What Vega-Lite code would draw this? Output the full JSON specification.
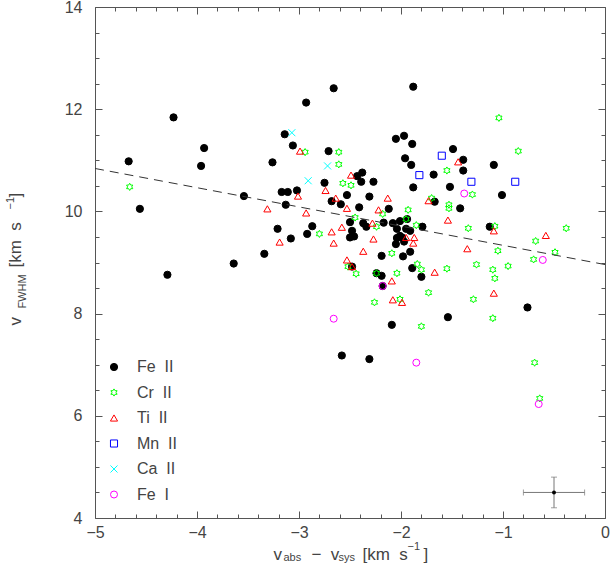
{
  "$schema": "https://vega.github.io/schema/vega-lite/v6.json",
  "width": 510,
  "height": 511,
  "autosize": "none",
  "padding": {"left": 95, "top": 7, "right": 6, "bottom": 46},
  "config": {
    "view": {"stroke": "#555", "strokeWidth": 1},
    "axis": {"domain": false, "grid": false, "labelFont": "Liberation Sans", "titleFont": "Liberation Sans", "labelColor": "#444", "titleColor": "#444", "titleFontWeight": "normal", "tickColor": "#555", "labelFlush": false, "labelOverlap": false, "titleAnchor": "start", "titlePadding": 0}
  },
  "datasets": {
    "pts": [
      {"x": -4.67, "y": 10.98, "ion": "Fe II"}, {"x": -4.56, "y": 10.05, "ion": "Fe II"}, {"x": -4.23, "y": 11.84, "ion": "Fe II"},
      {"x": -3.93, "y": 11.24, "ion": "Fe II"}, {"x": -3.96, "y": 10.89, "ion": "Fe II"}, {"x": -4.29, "y": 8.76, "ion": "Fe II"},
      {"x": -3.64, "y": 8.98, "ion": "Fe II"}, {"x": -3.54, "y": 10.30, "ion": "Fe II"}, {"x": -3.26, "y": 10.96, "ion": "Fe II"},
      {"x": -3.34, "y": 9.17, "ion": "Fe II"}, {"x": -3.14, "y": 11.51, "ion": "Fe II"}, {"x": -3.06, "y": 11.29, "ion": "Fe II"},
      {"x": -2.93, "y": 12.13, "ion": "Fe II"}, {"x": -2.66, "y": 12.41, "ion": "Fe II"}, {"x": -2.71, "y": 11.18, "ion": "Fe II"},
      {"x": -2.75, "y": 10.56, "ion": "Fe II"}, {"x": -3.17, "y": 10.38, "ion": "Fe II"}, {"x": -3.11, "y": 10.38, "ion": "Fe II"},
      {"x": -3.02, "y": 10.41, "ion": "Fe II"}, {"x": -3.13, "y": 10.13, "ion": "Fe II"}, {"x": -3.21, "y": 9.66, "ion": "Fe II"},
      {"x": -3.08, "y": 9.47, "ion": "Fe II"}, {"x": -2.92, "y": 9.56, "ion": "Fe II"}, {"x": -2.87, "y": 9.71, "ion": "Fe II"},
      {"x": -2.68, "y": 10.20, "ion": "Fe II"}, {"x": -2.59, "y": 10.14, "ion": "Fe II"}, {"x": -2.53, "y": 10.32, "ion": "Fe II"},
      {"x": -2.43, "y": 10.69, "ion": "Fe II"}, {"x": -2.38, "y": 10.76, "ion": "Fe II"}, {"x": -2.39, "y": 10.58, "ion": "Fe II"},
      {"x": -2.41, "y": 10.08, "ion": "Fe II"}, {"x": -2.50, "y": 9.79, "ion": "Fe II"}, {"x": -2.48, "y": 9.62, "ion": "Fe II"},
      {"x": -2.50, "y": 9.49, "ion": "Fe II"}, {"x": -2.46, "y": 9.51, "ion": "Fe II"}, {"x": -2.37, "y": 9.77, "ion": "Fe II"},
      {"x": -2.34, "y": 9.70, "ion": "Fe II"}, {"x": -2.05, "y": 11.42, "ion": "Fe II"}, {"x": -1.97, "y": 11.48, "ion": "Fe II"},
      {"x": -1.89, "y": 11.32, "ion": "Fe II"}, {"x": -1.88, "y": 12.44, "ion": "Fe II"}, {"x": -1.49, "y": 11.22, "ion": "Fe II"},
      {"x": -1.96, "y": 11.04, "ion": "Fe II"}, {"x": -1.90, "y": 10.91, "ion": "Fe II"}, {"x": -1.39, "y": 11.01, "ion": "Fe II"},
      {"x": -1.39, "y": 10.80, "ion": "Fe II"}, {"x": -1.09, "y": 10.91, "ion": "Fe II"}, {"x": -1.01, "y": 10.32, "ion": "Fe II"},
      {"x": -2.27, "y": 10.58, "ion": "Fe II"}, {"x": -1.68, "y": 10.72, "ion": "Fe II"}, {"x": -1.88, "y": 10.47, "ion": "Fe II"},
      {"x": -1.52, "y": 10.48, "ion": "Fe II"}, {"x": -2.31, "y": 10.29, "ion": "Fe II"}, {"x": -1.67, "y": 10.19, "ion": "Fe II"},
      {"x": -1.42, "y": 10.06, "ion": "Fe II"}, {"x": -2.12, "y": 10.05, "ion": "Fe II"}, {"x": -2.17, "y": 9.78, "ion": "Fe II"},
      {"x": -2.08, "y": 9.77, "ion": "Fe II"}, {"x": -2.01, "y": 9.81, "ion": "Fe II"}, {"x": -1.94, "y": 9.85, "ion": "Fe II"},
      {"x": -2.04, "y": 9.66, "ion": "Fe II"}, {"x": -1.95, "y": 9.66, "ion": "Fe II"}, {"x": -1.91, "y": 9.62, "ion": "Fe II"},
      {"x": -1.79, "y": 9.70, "ion": "Fe II"}, {"x": -2.01, "y": 9.52, "ion": "Fe II"}, {"x": -2.04, "y": 9.48, "ion": "Fe II"},
      {"x": -1.99, "y": 9.49, "ion": "Fe II"}, {"x": -1.97, "y": 9.41, "ion": "Fe II"}, {"x": -2.05, "y": 9.36, "ion": "Fe II"},
      {"x": -1.13, "y": 9.70, "ion": "Fe II"}, {"x": -2.19, "y": 9.13, "ion": "Fe II"}, {"x": -1.98, "y": 9.12, "ion": "Fe II"},
      {"x": -1.91, "y": 9.21, "ion": "Fe II"}, {"x": -1.89, "y": 8.89, "ion": "Fe II"}, {"x": -1.80, "y": 8.72, "ion": "Fe II"},
      {"x": -2.24, "y": 8.79, "ion": "Fe II"}, {"x": -2.19, "y": 8.74, "ion": "Fe II"}, {"x": -2.18, "y": 8.54, "ion": "Fe II"},
      {"x": -2.48, "y": 8.92, "ion": "Fe II"}, {"x": -1.54, "y": 7.93, "ion": "Fe II"}, {"x": -2.09, "y": 7.78, "ion": "Fe II"},
      {"x": -2.31, "y": 7.11, "ion": "Fe II"}, {"x": -2.58, "y": 7.18, "ion": "Fe II"}, {"x": -0.76, "y": 8.12, "ion": "Fe II"},
      {"x": -4.66, "y": 10.48, "ion": "Cr II"}, {"x": -2.94, "y": 11.16, "ion": "Cr II"}, {"x": -2.61, "y": 11.16, "ion": "Cr II"},
      {"x": -2.61, "y": 10.92, "ion": "Cr II"}, {"x": -2.57, "y": 10.55, "ion": "Cr II"}, {"x": -2.49, "y": 10.51, "ion": "Cr II"},
      {"x": -2.80, "y": 9.56, "ion": "Cr II"}, {"x": -2.45, "y": 9.88, "ion": "Cr II"}, {"x": -1.55, "y": 10.80, "ion": "Cr II"},
      {"x": -1.30, "y": 10.33, "ion": "Cr II"}, {"x": -1.70, "y": 10.26, "ion": "Cr II"}, {"x": -1.53, "y": 10.13, "ion": "Cr II"},
      {"x": -1.53, "y": 10.06, "ion": "Cr II"}, {"x": -1.93, "y": 10.03, "ion": "Cr II"}, {"x": -2.18, "y": 9.95, "ion": "Cr II"},
      {"x": -1.95, "y": 9.85, "ion": "Cr II"}, {"x": -2.24, "y": 9.70, "ion": "Cr II"}, {"x": -1.85, "y": 9.73, "ion": "Cr II"},
      {"x": -1.34, "y": 9.67, "ion": "Cr II"}, {"x": -1.08, "y": 9.71, "ion": "Cr II"}, {"x": -1.04, "y": 11.83, "ion": "Cr II"},
      {"x": -0.85, "y": 11.18, "ion": "Cr II"}, {"x": -0.68, "y": 9.42, "ion": "Cr II"}, {"x": -0.38, "y": 9.67, "ion": "Cr II"},
      {"x": -0.49, "y": 9.20, "ion": "Cr II"}, {"x": -0.70, "y": 9.06, "ion": "Cr II"}, {"x": -1.05, "y": 9.23, "ion": "Cr II"},
      {"x": -2.09, "y": 9.18, "ion": "Cr II"}, {"x": -2.52, "y": 8.92, "ion": "Cr II"}, {"x": -2.44, "y": 8.78, "ion": "Cr II"},
      {"x": -2.24, "y": 8.79, "ion": "Cr II"}, {"x": -2.04, "y": 8.79, "ion": "Cr II"}, {"x": -1.84, "y": 8.97, "ion": "Cr II"},
      {"x": -1.80, "y": 8.86, "ion": "Cr II"}, {"x": -1.55, "y": 8.88, "ion": "Cr II"}, {"x": -1.26, "y": 8.96, "ion": "Cr II"},
      {"x": -1.10, "y": 8.86, "ion": "Cr II"}, {"x": -1.08, "y": 8.69, "ion": "Cr II"}, {"x": -0.95, "y": 8.93, "ion": "Cr II"},
      {"x": -1.73, "y": 8.41, "ion": "Cr II"}, {"x": -2.26, "y": 8.22, "ion": "Cr II"}, {"x": -2.01, "y": 8.28, "ion": "Cr II"},
      {"x": -1.29, "y": 8.28, "ion": "Cr II"}, {"x": -1.10, "y": 7.91, "ion": "Cr II"}, {"x": -1.80, "y": 7.75, "ion": "Cr II"},
      {"x": -0.69, "y": 7.04, "ion": "Cr II"}, {"x": -0.64, "y": 6.34, "ion": "Cr II"},
      {"x": -2.99, "y": 11.18, "ion": "Ti II"}, {"x": -2.74, "y": 10.41, "ion": "Ti II"}, {"x": -3.01, "y": 10.30, "ion": "Ti II"},
      {"x": -3.31, "y": 10.05, "ion": "Ti II"}, {"x": -2.93, "y": 9.97, "ion": "Ti II"}, {"x": -2.64, "y": 10.26, "ion": "Ti II"},
      {"x": -2.53, "y": 10.06, "ion": "Ti II"}, {"x": -2.68, "y": 9.60, "ion": "Ti II"}, {"x": -2.58, "y": 9.69, "ion": "Ti II"},
      {"x": -3.19, "y": 9.40, "ion": "Ti II"}, {"x": -2.66, "y": 9.38, "ion": "Ti II"}, {"x": -2.49, "y": 10.71, "ion": "Ti II"},
      {"x": -1.44, "y": 10.97, "ion": "Ti II"}, {"x": -2.13, "y": 10.26, "ion": "Ti II"}, {"x": -1.73, "y": 10.21, "ion": "Ti II"},
      {"x": -2.22, "y": 10.03, "ion": "Ti II"}, {"x": -2.28, "y": 9.77, "ion": "Ti II"}, {"x": -1.54, "y": 9.83, "ion": "Ti II"},
      {"x": -2.27, "y": 9.46, "ion": "Ti II"}, {"x": -1.95, "y": 9.49, "ion": "Ti II"}, {"x": -1.87, "y": 9.49, "ion": "Ti II"},
      {"x": -1.88, "y": 9.38, "ion": "Ti II"}, {"x": -1.35, "y": 9.27, "ion": "Ti II"}, {"x": -2.37, "y": 9.22, "ion": "Ti II"},
      {"x": -2.53, "y": 9.05, "ion": "Ti II"}, {"x": -2.48, "y": 8.92, "ion": "Ti II"}, {"x": -1.67, "y": 8.81, "ion": "Ti II"},
      {"x": -2.09, "y": 8.64, "ion": "Ti II"}, {"x": -2.08, "y": 8.27, "ion": "Ti II"}, {"x": -1.99, "y": 8.22, "ion": "Ti II"},
      {"x": -1.09, "y": 8.40, "ion": "Ti II"}, {"x": -0.58, "y": 9.53, "ion": "Ti II"}, {"x": -1.09, "y": 9.62, "ion": "Ti II"},
      {"x": -1.60, "y": 11.09, "ion": "Mn II"}, {"x": -1.82, "y": 10.71, "ion": "Mn II"}, {"x": -1.31, "y": 10.58, "ion": "Mn II"},
      {"x": -0.88, "y": 10.58, "ion": "Mn II"},
      {"x": -3.07, "y": 11.54, "ion": "Ca II"}, {"x": -2.72, "y": 10.89, "ion": "Ca II"}, {"x": -2.91, "y": 10.60, "ion": "Ca II"},
      {"x": -1.38, "y": 10.35, "ion": "Fe I"}, {"x": -2.18, "y": 8.54, "ion": "Fe I"}, {"x": -2.66, "y": 7.90, "ion": "Fe I"},
      {"x": -1.85, "y": 7.04, "ion": "Fe I"}, {"x": -0.61, "y": 9.05, "ion": "Fe I"}, {"x": -0.65, "y": 6.23, "ion": "Fe I"}
    ],
    "fit": [{"x": -5, "y": 10.84}, {"x": 0, "y": 8.96}],
    "err": [{"x": -0.5, "y": 4.5, "xlo": -0.8, "xhi": -0.2, "ylo": 4.2, "yhi": 4.8}],
    "hcaps": [{"x": -0.8, "y": 4.5}, {"x": -0.2, "y": 4.5}],
    "vcaps": [{"x": -0.5, "y": 4.2}, {"x": -0.5, "y": 4.8}]
  },
  "resolve": {"axis": {"x": "independent", "y": "independent"}},
  "layer": [
    {
      "data": {"name": "pts"},
      "mark": {"type": "point", "strokeWidth": 1, "opacity": 1},
      "encoding": {
        "x": {"field": "x", "type": "quantitative", "scale": {"domain": [-5, 0], "nice": false, "zero": false},
          "axis": {"orient": "bottom", "values": [-5, -4, -3, -2, -1, 0], "format": "d", "ticks": false, "labelPadding": 6, "labelFontSize": 16, "labelBaseline": "top",
            "title": "v", "titleX": 178, "titleY": 41, "titleAlign": "left", "titleBaseline": "alphabetic", "titleFontSize": 17, "titleAngle": 0}},
        "y": {"field": "y", "type": "quantitative", "scale": {"domain": [4, 14], "nice": false, "zero": false},
          "axis": {"orient": "left", "values": [4, 6, 8, 10, 12, 14], "format": "d", "ticks": false, "labelPadding": 13, "labelFontSize": 16,
            "title": "v", "titleX": -75, "titleY": 318, "titleAlign": "left", "titleBaseline": "alphabetic", "titleFontSize": 17, "titleAngle": 270}},
        "fill": {"field": "ion", "type": "nominal",
          "scale": {"domain": ["Fe II", "Cr II", "Ti II", "Mn II", "Ca II", "Fe I"], "range": ["#000000", "transparent", "transparent", "transparent", "transparent", "transparent"]},
          "legend": {"orient": "none", "legendX": 11, "legendY": 352, "title": null, "padding": 0, "labelFontSize": 16, "labelColor": "#444", "labelFont": "Liberation Sans", "rowPadding": 9.5, "labelOffset": 15, "symbolStrokeWidth": 1,
            "labelExpr": "replace(datum.label, ' ', '\u00a0\u00a0')"}},
        "stroke": {"field": "ion", "type": "nominal",
          "scale": {"domain": ["Fe II", "Cr II", "Ti II", "Mn II", "Ca II", "Fe I"], "range": ["#000000", "#00ff00", "#ff0000", "#0000ff", "#00ffff", "#ff00ff"]}},
        "shape": {"field": "ion", "type": "nominal",
          "scale": {"domain": ["Fe II", "Cr II", "Ti II", "Mn II", "Ca II", "Fe I"], "range": ["circle", "M0,-1L0.289,-0.5L0.866,-0.5L0.577,0L0.866,0.5L0.289,0.5L0,1L-0.289,0.5L-0.866,0.5L-0.577,0L-0.866,-0.5L-0.289,-0.5Z", "triangle-up", "square", "M-1,-1L1,1M-1,1L1,-1", "circle"]}},
        "size": {"field": "ion", "type": "nominal",
          "scale": {"domain": ["Fe II", "Cr II", "Ti II", "Mn II", "Ca II", "Fe I"], "range": [52, 49, 45, 36, 36, 55]}}
      }
    },
    {
      "data": {"name": "fit"},
      "mark": {"type": "line", "color": "#333", "strokeWidth": 1, "strokeDash": [9, 6]},
      "encoding": {
        "x": {"field": "x", "type": "quantitative", "axis": {"orient": "top", "values": [-5, -4, -3, -2, -1, 0], "labels": false, "tickSize": -7,
          "title": "sys", "titleX": 243, "titleY": 553, "titleAlign": "left", "titleBaseline": "alphabetic", "titleFontSize": 11, "titleAngle": 0}},
        "y": {"field": "y", "type": "quantitative", "axis": {"orient": "right", "values": [4, 6, 8, 10, 12, 14], "labels": false, "tickSize": -7,
          "title": "−1", "titleX": -592, "titleY": 202, "titleAlign": "left", "titleBaseline": "alphabetic", "titleFontSize": 11, "titleAngle": 270}}
      }
    },
    {
      "data": {"name": "err"},
      "mark": {"type": "rule", "color": "#777", "strokeWidth": 1},
      "encoding": {
        "x": {"field": "xlo", "type": "quantitative", "axis": {"orient": "bottom", "values": [-5, -4, -3, -2, -1, 0], "labels": false, "tickSize": -7,
          "title": "abs", "titleX": 188, "titleY": 42, "titleAlign": "left", "titleBaseline": "alphabetic", "titleFontSize": 11, "titleAngle": 0}},
        "x2": {"field": "xhi"},
        "y": {"field": "y", "type": "quantitative", "axis": {"orient": "left", "values": [4, 6, 8, 10, 12, 14], "labels": false, "tickSize": -7,
          "title": "FWHM", "titleX": -70, "titleY": 301, "titleAlign": "left", "titleBaseline": "alphabetic", "titleFontSize": 11, "titleAngle": 270}}
      }
    },
    {
      "data": {"name": "err"},
      "mark": {"type": "rule", "color": "#777", "strokeWidth": 1},
      "encoding": {
        "x": {"field": "x", "type": "quantitative", "axis": {"orient": "bottom", "values": [-4.8, -4.6, -4.4, -4.2, -3.8, -3.6, -3.4, -3.2, -2.8, -2.6, -2.4, -2.2, -1.8, -1.6, -1.4, -1.2, -0.8, -0.6, -0.4, -0.2], "labels": false, "tickSize": -4,
          "title": "−\u00a0\u00a0v", "titleX": 216, "titleY": 41, "titleAlign": "left", "titleBaseline": "alphabetic", "titleFontSize": 17, "titleAngle": 0}},
        "y": {"field": "ylo", "type": "quantitative", "axis": {"orient": "left", "values": [4.5, 5, 5.5, 6.5, 7, 7.5, 8.5, 9, 9.5, 10.5, 11, 11.5, 12.5, 13, 13.5], "labels": false, "tickSize": -4,
          "title": "[km\u00a0\u00a0s", "titleX": -75, "titleY": 260, "titleAlign": "left", "titleBaseline": "alphabetic", "titleFontSize": 17, "titleAngle": 270}},
        "y2": {"field": "yhi"}
      }
    },
    {
      "data": {"name": "hcaps"},
      "mark": {"type": "tick", "orient": "vertical", "color": "#777", "size": 6, "thickness": 1},
      "encoding": {
        "x": {"field": "x", "type": "quantitative", "axis": {"orient": "top", "values": [-4.8, -4.6, -4.4, -4.2, -3.8, -3.6, -3.4, -3.2, -2.8, -2.6, -2.4, -2.2, -1.8, -1.6, -1.4, -1.2, -0.8, -0.6, -0.4, -0.2], "labels": false, "tickSize": -4,
          "title": "[km\u00a0\u00a0s", "titleX": 267, "titleY": 552, "titleAlign": "left", "titleBaseline": "alphabetic", "titleFontSize": 17, "titleAngle": 0}},
        "y": {"field": "y", "type": "quantitative", "axis": {"orient": "right", "values": [4.5, 5, 5.5, 6.5, 7, 7.5, 8.5, 9, 9.5, 10.5, 11, 11.5, 12.5, 13, 13.5], "labels": false, "tickSize": -4,
          "title": "]", "titleX": -585, "titleY": 190, "titleAlign": "left", "titleBaseline": "alphabetic", "titleFontSize": 17, "titleAngle": 270}}
      }
    },
    {
      "data": {"name": "vcaps"},
      "mark": {"type": "tick", "orient": "horizontal", "color": "#777", "size": 6, "thickness": 1},
      "encoding": {
        "x": {"field": "x", "type": "quantitative", "axis": {"orient": "bottom", "ticks": false, "labels": false, "values": [],
          "title": "−1", "titleX": 312, "titleY": 31, "titleAlign": "left", "titleBaseline": "alphabetic", "titleFontSize": 11, "titleAngle": 0}},
        "y": {"field": "y", "type": "quantitative", "axis": null}
      }
    },
    {
      "data": {"name": "err"},
      "mark": {"type": "circle", "color": "#000", "size": 16, "opacity": 1},
      "encoding": {
        "x": {"field": "x", "type": "quantitative", "axis": {"orient": "bottom", "ticks": false, "labels": false, "values": [],
          "title": "]", "titleX": 328, "titleY": 41, "titleAlign": "left", "titleBaseline": "alphabetic", "titleFontSize": 17, "titleAngle": 0}},
        "y": {"field": "y", "type": "quantitative", "axis": null}
      }
    }
  ]
}
